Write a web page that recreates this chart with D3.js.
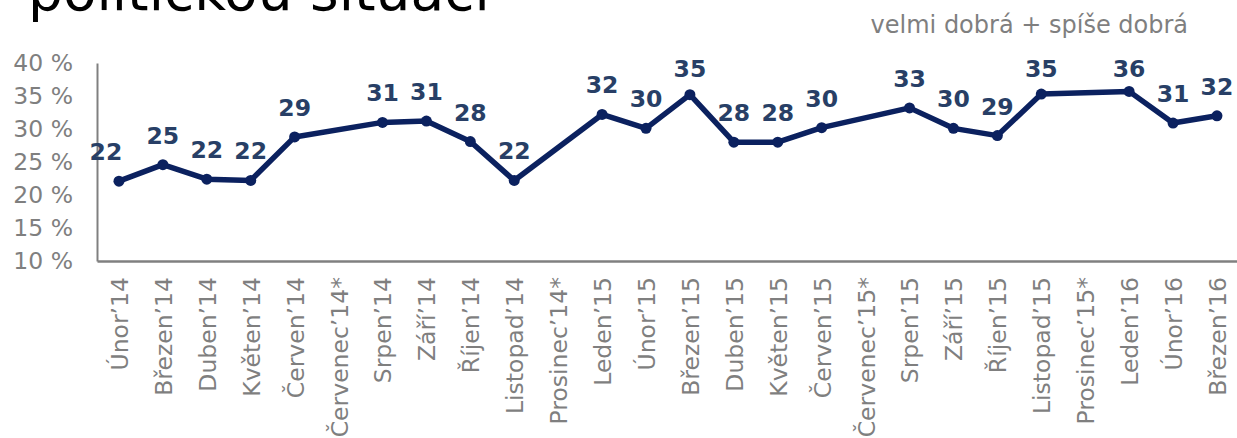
<!DOCTYPE html>
<html>
<head>
<meta charset="utf-8">
<script src="https://cdn.jsdelivr.net/npm/d3@7"></script>
<style>
  body { margin: 0; background: #fff; }
  svg { display: block; }
</style>
</head>
<body>
<div id="chart"></div>
<script>
// months on the x axis (the * ones have no survey)
var months = ["Únor’14", "Březen’14", "Duben’14", "Květen’14", "Červen’14", "Červenec’14*",
    "Srpen’14", "Září’14", "Říjen’14", "Listopad’14", "Prosinec’14*",
    "Leden’15", "Únor’15", "Březen’15", "Duben’15", "Květen’15", "Červen’15", "Červenec’15*",
    "Srpen’15", "Září’15", "Říjen’15", "Listopad’15", "Prosinec’15*",
    "Leden’16", "Únor’16", "Březen’16"];

// velmi dobrá + spíše dobrá, in %
var values = [22.1, 24.6, 22.4, 22.2, 28.8, null,
    31.0, 31.2, 28.1, 22.2, null,
    32.2, 30.1, 35.2, 28.0, 28.0, 30.2, null,
    33.2, 30.1, 29.0, 35.3, null,
    35.7, 30.9, 32.0];

var yTicks = [10, 15, 20, 25, 30, 35, 40];

var titleText = "politickou situaci";
var legendText = "velmi dobrá + spíše dobrá";

var width = 1237, height = 438;
var plotLeft = 97, plotTop = 63, plotBottom = 261;
var step = 43.92;

var svg = d3.select("#chart")
    .append("svg")
    .attr("width", width)
    .attr("height", height)
    .style("font-family", "'DejaVu Sans', Verdana, sans-serif");

var x = d3.scalePoint()
    .domain(months)
    .range([plotLeft, plotLeft + step * months.length])
    .padding(0.5);

var y = d3.scaleLinear()
    .domain([10, 40])
    .range([plotBottom, plotTop]);

// title (cut by the top edge)
svg.append("text")
    .attr("x", 28)
    .attr("y", 10)
    .text(titleText)
    .attr("font-size", 55)
    .attr("fill", "#000");

svg.append("text")
    .attr("x", 1188)
    .attr("y", 33)
    .text(legendText)
    .attr("text-anchor", "end")
    .attr("font-size", 24)
    .attr("fill", "#7f7f7f");

// y axis
var yAxis = svg.append("g")
    .attr("transform", "translate(" + plotLeft + ",0)")
    .call(d3.axisLeft(y).tickValues(yTicks).tickSize(0).tickPadding(24)
        .tickFormat(function(d){ return d + " %"; }));

yAxis.select(".domain").attr("stroke", "#808080").attr("stroke-width", 2);
yAxis.selectAll("text")
    .attr("font-size", 23.5)
    .attr("font-family", "'DejaVu Sans', Verdana, sans-serif")
    .attr("fill", "#7f7f7f");

// x axis
var xAxis = svg.append("g")
    .attr("transform", "translate(0," + plotBottom + ")")
    .call(d3.axisBottom(x).tickSize(0).tickSizeOuter(0));

xAxis.select(".domain").attr("stroke", "#808080").attr("stroke-width", 2.5);
xAxis.selectAll("text")
    .attr("font-size", 23.5)
    .attr("font-family", "'DejaVu Sans', Verdana, sans-serif")
    .attr("fill", "#7f7f7f")
    .attr("text-anchor", "end")
    .attr("transform", "rotate(-90)")
    .attr("x", -16)
    .attr("y", 0)
    .attr("dy", "0.36em");

var data = months.map(function(m, i){ return {month: m, value: values[i], i: i}; })
    .filter(function(d){ return d.value !== null; });

var line = d3.line()
    .x(function(d){ return x(d.month); })
    .y(function(d){ return y(d.value); });

svg.append("path")
    .datum(data)
    .attr("d", line)
    .attr("fill", "none")
    .attr("stroke", "#0b215f")
    .attr("stroke-width", 5.5)
    .attr("stroke-linejoin", "round");

svg.selectAll(".dot")
    .data(data)
    .enter()
    .append("circle")
    .attr("class", "dot")
    .attr("cx", function(d){ return x(d.month); })
    .attr("cy", function(d){ return y(d.value); })
    .attr("r", 5.5)
    .attr("fill", "#0b215f");

svg.selectAll(".lbl")
    .data(data)
    .enter()
    .append("text")
    .attr("class", "lbl")
    .attr("x", function(d){ return x(d.month) + (d.i === 0 ? -13 : 0); })
    .attr("y", function(d){ return Math.max(y(d.value) - 21, y(40) + 14); })
    .text(function(d){ return Math.round(d.value); })
    .attr("text-anchor", "middle")
    .attr("font-size", 23.5)
    .attr("font-weight", "bold")
    .attr("fill", "#283f66");
</script>
</body>
</html>
